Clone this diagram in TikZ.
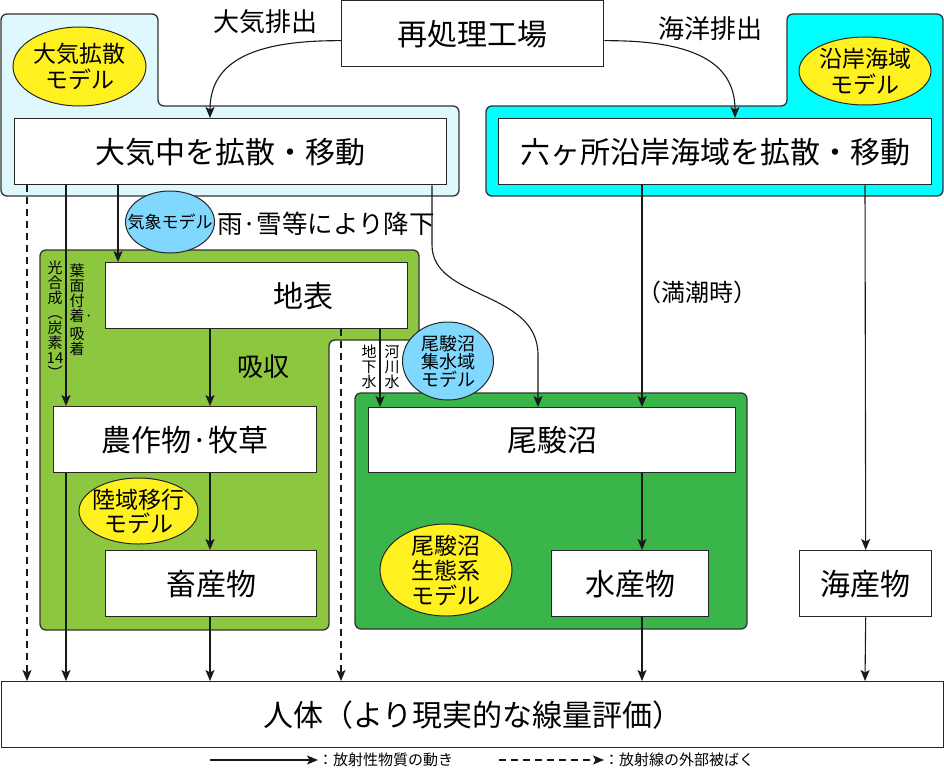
\documentclass[tikz,border=0pt]{standalone}
\usepackage{fontspec}
\setmainfont{Noto Sans CJK JP}
\usetikzlibrary{arrows.meta,shapes.geometric}

\definecolor{skyblue}{RGB}{222,248,253}
\definecolor{seacyan}{RGB}{0,255,255}
\definecolor{landgreen}{RGB}{141,198,63}
\definecolor{pondgreen}{RGB}{58,181,74}
\definecolor{modelyellow}{RGB}{255,240,32}
\definecolor{modelblue}{RGB}{128,216,255}

\newcommand{\fs}[1]{\fontsize{#1}{#1}\selectfont}

\tikzset{
  box/.style={draw=black!85, fill=white, line width=1.4pt, inner sep=0pt, anchor=north west, font=\fs{30}},
  model/.style={ellipse, draw=black!85, line width=1pt, inner sep=-15pt, align=center},
  region/.style={draw=black!80, line width=1.3pt, rounded corners=6pt},
  flow/.style={-{Stealth[length=11pt,width=9pt,inset=2.5pt]}, line width=1.1pt, draw=black!90},
  expo/.style={flow, dash pattern=on 7pt off 5pt},
  tate/.style={align=center, inner sep=0pt, font=\fontsize{15}{15}\selectfont},
}

\begin{document}
\begin{tikzpicture}[x=1pt, y=-1pt]
  \useasboundingbox (0,0) rectangle (944,768);
  % areas of the models
  \draw[region, fill=skyblue] (1,14) -- (158,14) -- (158,106) -- (459,106) -- (459,196) -- (1,196) -- cycle;
  \draw[region, fill=seacyan] (787,14) -- (943,14) -- (943,196) -- (486,196) -- (486,106) -- (787,106) -- cycle;
  \draw[region, fill=landgreen] (40,250) -- (419,250) -- (419,340) -- (329,340) -- (329,630) -- (40,630) -- cycle;
  \draw[region, fill=pondgreen] (355,393) rectangle (747,629);

  % boxes
  \node[box, minimum width=262pt, minimum height=66pt] (plant) at (341,0) {再処理工場};
  \node[box, minimum width=432pt, minimum height=66pt] (atm) at (14,118) {大気中を拡散・移動};
  \node[box, minimum width=433pt, minimum height=66pt] (coast) at (498,118) {六ヶ所沿岸海域を拡散・移動};
  \node[box, minimum width=302pt, minimum height=66pt] (ground) at (105,262) {\hspace*{94pt}地表};
  \node[box, minimum width=263pt, minimum height=66pt] (crop) at (53,406) {農作物·牧草};
  \node[box, minimum width=211pt, minimum height=66pt] (stock) at (105,550) {畜産物};
  \node[box, minimum width=367pt, minimum height=65pt] (pond) at (368,407) {尾駿沼};
  \node[box, minimum width=157pt, minimum height=66pt] (fish) at (551,550) {水産物};
  \node[box, minimum width=132pt, minimum height=66pt] (seafood) at (799,550) {海産物};
  \node[box, minimum width=942pt, minimum height=66pt] (human) at (1,681) {人体（より現実的な線量評価）};

  % labels
  \node[font=\fs{26}] (lblAir) at (265,22) {大気排出};
  \node[font=\fs{26}] (lblSea) at (710,29) {海洋排出};
  \node[font=\fs{25.5}] (lblRain) at (326,224) {雨·雪等により降下};
  \node[font=\fs{26}] (lblAbs) at (263,367) {吸収};
  \node[font=\fs{24}] (lblTide) at (697,292) {（満潮時）};
  \node[tate] (lblKogo) at (55,320) {光\\合\\成\\︵\\炭\\素\\14\\︶};
  \node[tate] (lblYomen) at (77,310) {葉\\面\\付\\着\rlap{·}\\[3pt]吸\\着};
  \node[tate] (lblChika) at (369,367) {地\\下\\水};
  \node[tate] (lblKasen) at (392,367) {河\\川\\水};

  % emissions
  \draw[flow] ([yshift=-7pt]plant.west) .. controls (245,40) and (210,66) .. (atm.north -| 210,0);
  \draw[flow] ([yshift=-7pt]plant.east) .. controls (700,40) and (735,66) .. (coast.north -| 735,0);

  % transfer
  \draw[expo] (atm.south -| 27,0) -- (human.north -| 27,0);
  \draw[flow] (atm.south -| 66,0) -- (crop.north -| 66,0);
  \draw[flow] (crop.south -| 66,0) -- (human.north -| 66,0);
  \draw[flow] (atm.south -| 118,0) -- (ground.north -| 118,0);
  \draw[flow] (atm.south -| 432,0) -- (432,245) .. controls (432,300) and (538,290) .. (538,355) -- (pond.north -| 538,0);
  \draw[flow] (ground.south -| 210,0) -- (crop.north -| 210,0);
  \draw[flow] (crop.south -| 210,0) -- (stock.north -| 210,0);
  \draw[flow] (stock.south -| 210,0) -- (human.north -| 210,0);
  \draw[expo] (ground.south -| 341,0) -- (human.north -| 341,0);
  \draw[flow] (ground.south -| 380,0) -- (pond.north -| 380,0);
  \draw[flow] (coast.south -| 642,0) -- (pond.north -| 642,0);
  \draw[flow] (pond.south -| 642,0) -- (fish.north -| 642,0);
  \draw[flow] (fish.south -| 642,0) -- (human.north -| 642,0);
  \draw[flow] (coast.south -| 865,0) -- (seafood.north);
  \draw[flow] (seafood.south) -- (human.north -| 865,0);

  % models
  \node[model, fill=modelyellow, minimum width=133pt, minimum height=79pt, font=\fontsize{23}{26}\selectfont] (mAtm) at (79.5,66.5) {大気拡散\\モデル};
  \node[model, fill=modelyellow, minimum width=132pt, minimum height=68pt, font=\fontsize{23}{26}\selectfont] (mCoast) at (865,71) {沿岸海域\\モデル};
  \node[model, fill=modelblue, minimum width=89pt, minimum height=62pt, font=\fs{17}] (mWeather) at (170,222) {気象モデル};
  \node[model, fill=modelblue, minimum width=91pt, minimum height=78pt, font=\fontsize{18}{18}\selectfont] (mCatch) at (448,361) {尾駿沼\\集水域\\モデル};
  \node[model, fill=modelyellow, minimum width=119pt, minimum height=66pt, font=\fontsize{23}{24}\selectfont] (mLand) at (138.5,511) {陸域移行\\モデル};
  \node[model, fill=modelyellow, minimum width=132pt, minimum height=92pt, font=\fontsize{23}{25}\selectfont] (mEco) at (446,570) {尾駿沼\\生態系\\モデル};

  % legend
  \coordinate (legSolidStart) at (210,760);
  \node[anchor=west, inner sep=0pt, font=\fs{15}] (legSolid) at (318,760) {：放射性物質の動き};
  \draw[flow] (legSolidStart) -- (legSolid.west);
  \coordinate (legDashStart) at (499,760);
  \node[anchor=west, inner sep=0pt, font=\fs{15}] (legDash) at (604,760) {：放射線の外部被ばく};
  \draw[expo] (legDashStart) -- (legDash.west);
\end{tikzpicture}
\end{document}
